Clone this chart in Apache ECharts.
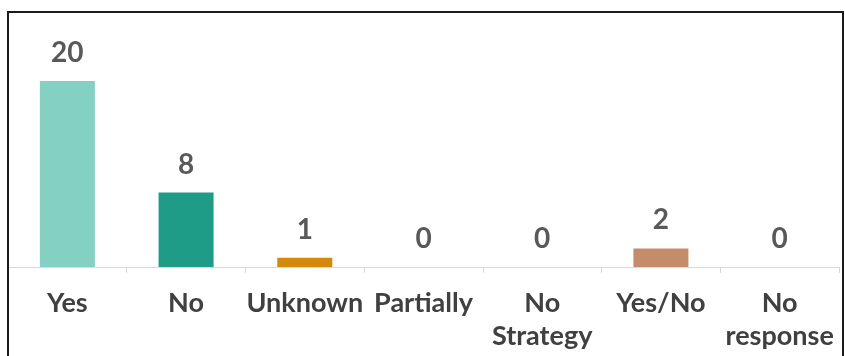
<!DOCTYPE html>
<html>
<head>
<meta charset="utf-8">
<script src="https://cdn.jsdelivr.net/npm/echarts@6/dist/echarts.min.js"></script>
<style>
  html, body { margin: 0; padding: 0; background: #fff; }
  .wrapper-box { position: relative; width: 845px; height: 356px; }
  #chart { width: 845px; height: 356px; }
  .frame {
    position: absolute; left: 7px; top: 11px; right: 1px; bottom: -4px;
    border: 2px solid #1a1a1a; pointer-events: none;
  }
</style>
</head>
<body>
<div class="wrapper-box">
  <div id="chart"></div>
  <div class="frame"></div>
</div>
<script>
  // answers to the strategy question
  const categories = ['Yes', 'No', 'Unknown', 'Partially', 'No\nStrategy', 'Yes/No', 'No\nresponse']
  const counts = [20, 8, 1, 0, 0, 2, 0]
  const barColors = ['#84D0C2', '#1E9C87', '#D4890A', '#A5A5A5', '#7F7F7F', '#C48C6A', '#5B9BD5']

  const chart = echarts.init(document.getElementById('chart'))
  const font = 'Lato, "Noto Sans", sans-serif'

  const option = {
    animation: false,
    grid: {
      left: 8,
      right: 6,
      top: 81,
      bottom: 89
    },
    xAxis: {
      type: 'category',
      data: categories,
      axisLine: { lineStyle: { color: '#D9D9D9', width: 1 } },
      axisTick: { show: true, length: 6, lineStyle: { color: '#D9D9D9' } },
      axisLabel: {
        interval: 0,
        margin: 20,
        color: '#404040',
        fontFamily: font,
        fontWeight: 'bold',
        fontSize: 27,
        lineHeight: 33
      }
    },
    yAxis: {
      type: 'value',
      min: 0,
      max: 20,
      show: false,
      splitLine: { show: false }
    },
    series: [
      {
        type: 'bar',
        barWidth: 55,
        data: counts.map((v, i) => ({ value: v, itemStyle: { color: barColors[i] } })),
        label: {
          show: true,
          position: 'top',
          distance: 14,
          color: '#595959',
          fontFamily: font,
          fontWeight: 'bold',
          fontSize: 28
        }
      }
    ]
  }
  chart.setOption(option)
</script>
</body>
</html>
